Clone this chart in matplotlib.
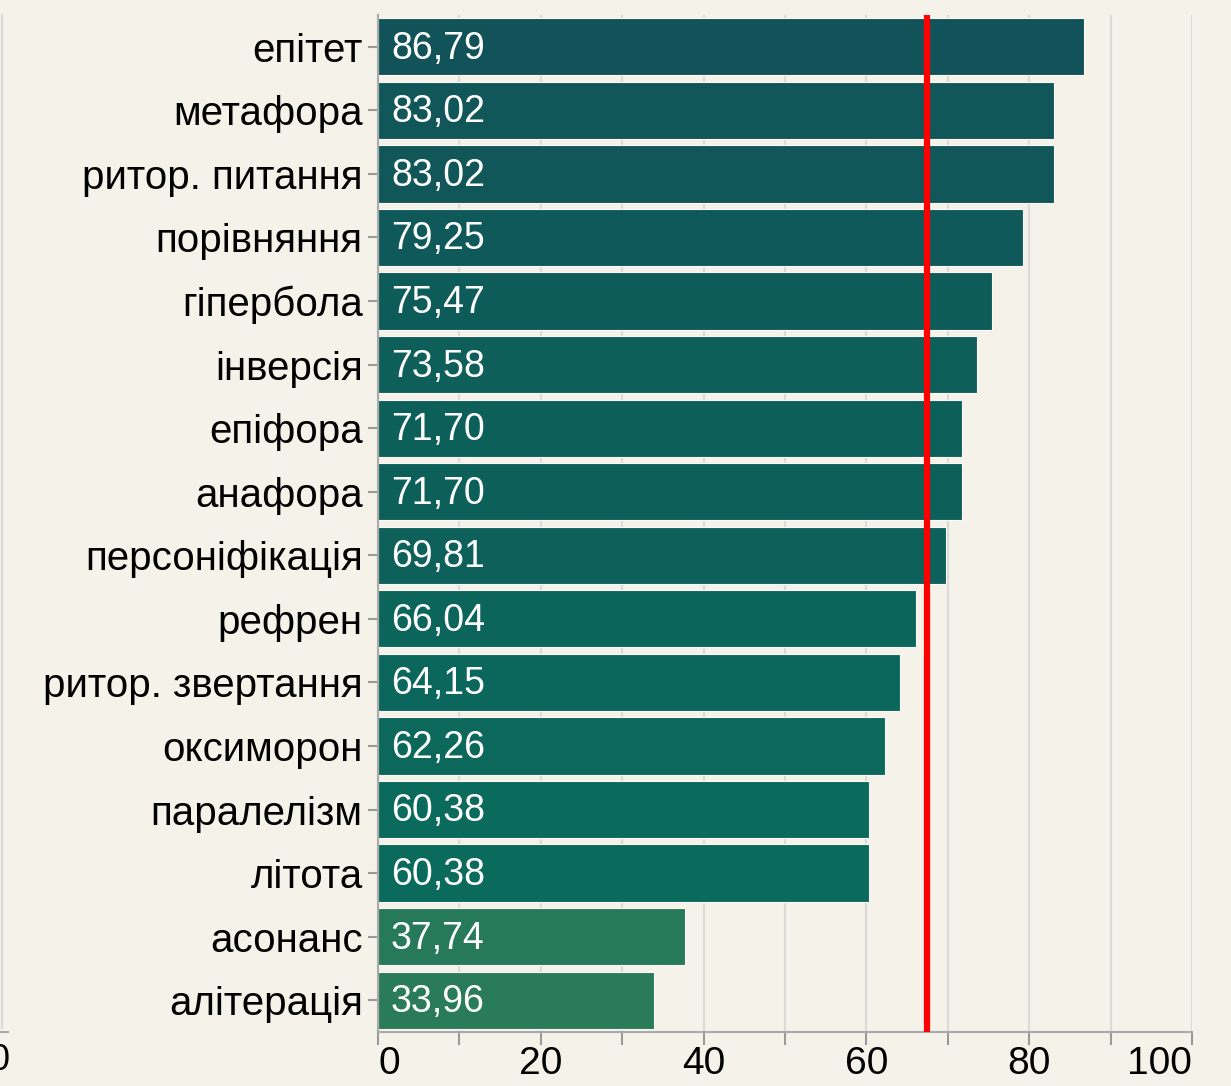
import matplotlib
matplotlib.use("Agg")
import matplotlib.pyplot as plt
from matplotlib.colors import LinearSegmentedColormap, Normalize
from matplotlib.lines import Line2D

plt.rcParams["font.family"] = ["Liberation Sans", "DejaVu Sans"]

# data
categories = [
    "епітет", "метафора", "ритор. питання", "порівняння", "гіпербола",
    "інверсія", "епіфора", "анафора", "персоніфікація", "рефрен",
    "ритор. звертання", "оксиморон", "паралелізм", "літота", "асонанс",
    "алітерація",
]
values = [86.79, 83.02, 83.02, 79.25, 75.47, 73.58, 71.70, 71.70, 69.81,
          66.04, 64.15, 62.26, 60.38, 60.38, 37.74, 33.96]
mean_line = 67.4
x_ticks = [0, 20, 40, 60, 80, 100]

BG = "#f5f2ea"
cmap = LinearSegmentedColormap.from_list(
    "teal", ["#2b7b59", "#1d7459", "#0a6a5b", "#0e5d5a", "#125259"])
norm = Normalize(vmin=33, vmax=88)

W, H = 1231, 1086
fig = plt.figure(figsize=(W / 100, H / 100), dpi=100, facecolor=BG)
ax = fig.add_axes([378 / W, (H - 1032) / H, (1192 - 378) / W, (1032 - 15) / H])
ax.set_facecolor(BG)

ypos = list(range(len(categories)))
ax.barh(ypos, values, height=0.9, color=[cmap(norm(v)) for v in values],
        edgecolor="#fbfaf6", linewidth=0.8, zorder=2)

for y, v in zip(ypos, values):
    ax.text(1.6, y + 0.03, f"{v:.2f}".replace(".", ","), color="white",
            fontsize=27, va="center", ha="left", zorder=4)

ax.axvline(mean_line, color="#ff0000", linewidth=4.5, zorder=3)

ax.set_xlim(0, 100)
ax.set_ylim(len(categories) - 0.5, -0.5)
ax.set_yticks(ypos)
ax.set_yticklabels(categories, fontsize=29)
ax.set_xticks(x_ticks)
ax.set_xticklabels([str(t) for t in x_ticks], fontsize=28)
xlabels = ax.get_xticklabels()
xlabels[0].set_horizontalalignment("left")
xlabels[-1].set_horizontalalignment("right")
ax.set_xticks(range(10, 100, 20), minor=True)

ax.grid(axis="x", which="both", color="#dcdad4", linewidth=1.5, zorder=0)
ax.set_axisbelow(True)
ax.tick_params(axis="y", length=7, width=1.5, color="#999999", pad=4)
ax.tick_params(axis="x", which="both", length=9, width=1.5, color="#999999", pad=1)
for s in ["top", "right"]:
    ax.spines[s].set_visible(False)
for s in ["left", "bottom"]:
    ax.spines[s].set_color("#aaaaaa")
    ax.spines[s].set_linewidth(1.5)

# remnant of neighbouring panel at the left edge
fig.add_artist(Line2D([2.5 / W, 2.5 / W], [(H - 15) / H, (H - 1028) / H],
                      color="#dcdad4", linewidth=1.5))
fig.add_artist(Line2D([1 / W, 8 / W], [(H - 1032) / H, (H - 1032) / H],
                      color="#aaaaaa", linewidth=1.5))
fig.text(-10 / W, (H - 1060) / H, "0", fontsize=26, va="center", ha="left")

fig.savefig("out.png", dpi=100, facecolor=BG)
